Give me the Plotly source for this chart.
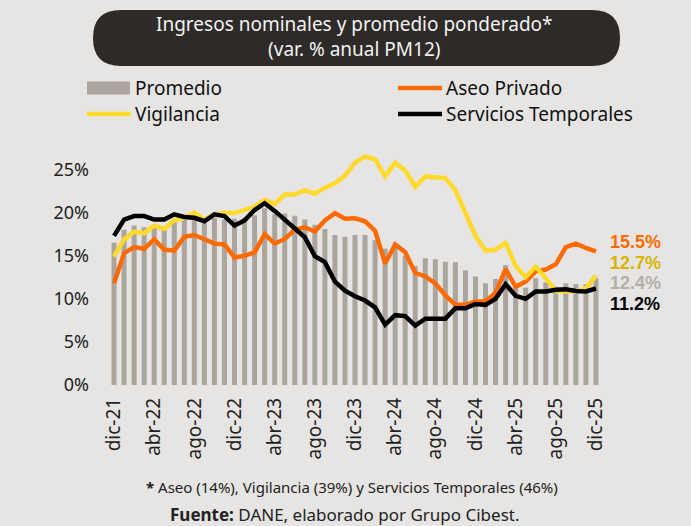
import plotly.graph_objects as go

# ---------------- data ----------------
months = ["dic-21","ene-22","feb-22","mar-22","abr-22","may-22","jun-22","jul-22","ago-22","sep-22","oct-22","nov-22",
          "dic-22","ene-23","feb-23","mar-23","abr-23","may-23","jun-23","jul-23","ago-23","sep-23","oct-23","nov-23",
          "dic-23","ene-24","feb-24","mar-24","abr-24","may-24","jun-24","jul-24","ago-24","sep-24","oct-24","nov-24",
          "dic-24","ene-25","feb-25","mar-25","abr-25","may-25","jun-25","jul-25","ago-25","sep-25","oct-25","nov-25",
          "dic-25"]

promedio = [16.5, 18.0, 18.5, 18.3, 18.6, 18.0, 19.0, 19.2, 19.4, 18.8, 19.4, 19.2,
            19.3, 19.4, 19.7, 20.5, 19.8, 19.9, 19.65, 19.2, 18.6, 18.1, 17.4, 17.2,
            17.4, 17.4, 16.8, 15.8, 15.9, 15.0, 13.8, 14.7, 14.6, 14.3, 14.25, 13.3,
            12.6, 11.8, 12.3, 13.9, 11.8, 11.3, 12.4, 11.9, 11.4, 11.8, 11.7, 11.7,
            12.4]

aseo = [11.8, 15.3, 16.0, 15.8, 16.9, 15.7, 15.6, 17.2, 17.4, 16.9, 16.4, 16.3,
        14.8, 15.0, 15.4, 17.5, 16.4, 16.95, 18.0, 18.3, 17.8, 19.1, 19.95, 19.3,
        19.35, 19.0, 17.9, 14.1, 16.3, 15.4, 13.0, 12.6, 11.8, 10.4, 9.3, 9.3,
        9.7, 9.7, 10.7, 13.45, 11.4, 12.0, 13.2, 13.4, 14.0, 16.0, 16.4, 15.9,
        15.5]

vigilancia = [14.9, 16.9, 17.8, 17.6, 18.5, 18.1, 19.1, 19.4, 20.0, 19.2, 19.8, 20.0,
              19.95, 20.3, 20.7, 21.5, 21.0, 22.1, 22.1, 22.6, 22.2, 22.9, 23.4, 24.3,
              25.8, 26.5, 26.2, 24.2, 25.8, 24.9, 23.0, 24.2, 24.15, 24.0, 22.6, 20.0,
              17.3, 15.6, 15.7, 16.5, 13.8, 12.5, 13.75, 12.4, 10.9, 10.85, 10.85, 11.2,
              12.7]

temporales = [17.3, 19.2, 19.6, 19.6, 19.2, 19.2, 19.8, 19.5, 19.4, 19.0, 19.8, 19.6,
              18.5, 19.1, 20.3, 21.1, 20.2, 19.15, 18.2, 17.15, 14.95, 14.25, 12.0, 10.95,
              10.3, 9.8, 9.0, 7.0, 8.1, 8.0, 6.9, 7.7, 7.7, 7.7, 8.9, 8.9,
              9.4, 9.3, 10.0, 11.7, 10.35, 10.0, 10.85, 10.85, 11.05, 11.1, 10.9, 10.85,
              11.2]

tick_labels = months[::4]
y_ticks = [0, 5, 10, 15, 20, 25]

# ---------------- styles ----------------
BG = "#E6E5E3"
C_BAR = "#ABA59E"
C_ORANGE = "#FF6A00"
C_YELLOW = "#FFD92B"
C_BLACK = "#000000"
FONT = "Noto Sans"

x = list(range(len(months)))

fig = go.Figure()
fig.add_trace(go.Bar(x=x, y=promedio, name="Promedio", marker=dict(color=C_BAR, line=dict(width=0))))
fig.add_trace(go.Scatter(x=x, y=aseo, name="Aseo Privado", mode="lines",
                         line=dict(color=C_ORANGE, width=4.5)))
fig.add_trace(go.Scatter(x=x, y=vigilancia, name="Vigilancia", mode="lines",
                         line=dict(color=C_YELLOW, width=4.5)))
fig.add_trace(go.Scatter(x=x, y=temporales, name="Servicios Temporales", mode="lines",
                         line=dict(color=C_BLACK, width=4.5)))

W, H = 691, 526
ML, MR, MT, MB = 105, 86, 148, 141

def px(xp):
    return (xp - ML) / (W - ML - MR)

def py(yp):
    return (H - MB - yp) / (H - MT - MB)

# rounded dark title box
x0, x1, y0, y1, r = 93, 620, 10, 66, 28
path = (f"M {px(x0 + r)},{py(y0)} L {px(x1 - r)},{py(y0)} "
        f"Q {px(x1)},{py(y0)} {px(x1)},{py(y0 + r)} "
        f"Q {px(x1)},{py(y1)} {px(x1 - r)},{py(y1)} "
        f"L {px(x0 + r)},{py(y1)} "
        f"Q {px(x0)},{py(y1)} {px(x0)},{py(y0 + r)} "
        f"Q {px(x0)},{py(y0)} {px(x0 + r)},{py(y0)} Z")
shapes = [dict(type="path", path=path, xref="paper", yref="paper",
               fillcolor="#2D2A27", line=dict(width=0), layer="above")]

annotations = [
    dict(text="Ingresos nominales y promedio ponderado*<br>(var. % anual PM12)",
         xref="paper", yref="paper", x=px(354), y=py(36), xanchor="center", yanchor="middle",
         showarrow=False, font=dict(family=FONT, size=19, color="#F2F2F2"), align="center"),
    dict(text="<b>*</b> Aseo (14%), Vigilancia (39%) y Servicios Temporales (46%)",
         xref="paper", yref="paper", x=px(352), y=py(487), xanchor="center", yanchor="middle",
         showarrow=False, font=dict(family="Liberation Sans Narrow, " + FONT, size=15, color="#222222")),
    dict(text="<b>Fuente:</b> DANE, elaborado por Grupo Cibest.",
         xref="paper", yref="paper", x=px(344), y=py(514), xanchor="center", yanchor="middle",
         showarrow=False, font=dict(family=FONT, size=17, color="#222222")),
]

# manual legend (two columns)
legend_items = [
    ("Promedio", "bar", C_BAR, 87, 88),
    ("Vigilancia", "line", C_YELLOW, 87, 114),
    ("Aseo Privado", "line", C_ORANGE, 398, 88),
    ("Servicios Temporales", "line", C_BLACK, 398, 114),
]
for name, kind, col, lx, ly in legend_items:
    if kind == "bar":
        shapes.append(dict(type="rect", xref="paper", yref="paper",
                           x0=px(lx), x1=px(lx + 43), y0=py(ly - 6.5), y1=py(ly + 6.5),
                           fillcolor=col, line=dict(width=0)))
    else:
        shapes.append(dict(type="line", xref="paper", yref="paper",
                           x0=px(lx), x1=px(lx + 44), y0=py(ly), y1=py(ly),
                           line=dict(color=col, width=4.5)))
    annotations.append(dict(text=name, xref="paper", yref="paper", x=px(lx + 46), y=py(ly),
                            xanchor="left", yanchor="middle", showarrow=False,
                            font=dict(family=FONT, size=19, color="#111111")))

# end labels
end_specs = [
    (aseo[-1], C_ORANGE, py(242)),
    (vigilancia[-1], "#D8B400", py(262.5)),
    (promedio[-1], "#B3AEA8", py(283)),
    (temporales[-1], C_BLACK, py(303.5)),
]
for val, col, yy in end_specs:
    annotations.append(dict(text=f"<b>{val:.1f}%</b>", xref="paper", yref="paper",
                            x=px(609), y=yy, xanchor="left", yanchor="middle", showarrow=False,
                            borderpad=0,
                            font=dict(family="Liberation Sans", size=18, color=col)))

fig.update_layout(
    width=W, height=H,
    paper_bgcolor=BG, plot_bgcolor=BG,
    margin=dict(l=ML, r=MR, t=MT, b=MB, pad=0),
    bargap=0.5,
    showlegend=False,
    shapes=shapes,
    annotations=annotations,
    xaxis=dict(range=[-0.9, 48.9], tickmode="array", tickvals=x[::4], ticktext=tick_labels,
               tickangle=-90, showgrid=False, zeroline=False, showline=False,
               ticks="", ticklabelstandoff=8,
               tickfont=dict(family=FONT, size=19, color="#222222")),
    yaxis=dict(range=[0, 27.5], tickmode="array", tickvals=y_ticks,
               ticktext=[f"{v}%" for v in y_ticks], showgrid=False, zeroline=False,
               showline=False, ticks="", ticklabelstandoff=15,
               tickfont=dict(family=FONT, size=18, color="#222222")),
)

fig.write_html("out.html", config={"displayModeBar": False},
               post_script="document.body.style.margin='0px';document.body.style.background='#E6E5E3';")
